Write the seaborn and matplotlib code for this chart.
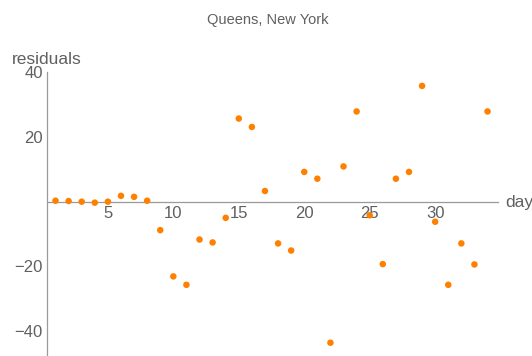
import matplotlib
matplotlib.use("Agg")
import matplotlib.pyplot as plt
import seaborn as sns
import pandas as pd
from matplotlib.ticker import MultipleLocator, FixedLocator

days = list(range(1, 35))
residuals = [0.3, 0.2, 0.0, -0.3, 0.0, 1.8, 1.5, 0.3, -8.8, -23.1,
             -25.7, -11.7, -12.6, -5.0, 25.7, 23.1, 3.3, -12.9, -15.1, 9.2,
             7.1, -43.6, 10.9, 27.9, -4.2, -19.3, 7.1, 9.2, 35.8, -6.2,
             -25.7, -12.9, -19.4, 27.9]
x_major = [5, 10, 15, 20, 25, 30]
y_major = [-40, -20, 20, 40]

df = pd.DataFrame({"day": days, "residuals": residuals})

sns.set_style("white")
plt.rcParams['font.family'] = ['Liberation Sans', 'DejaVu Sans']

W, H = 532, 356
fig = plt.figure(figsize=(W / 100, H / 100), dpi=100)
ax = fig.add_axes([47 / W, 1 / H, 451 / W, 284 / H])

sns.scatterplot(data=df, x="day", y="residuals", ax=ax, color="#ff8000",
                s=22, edgecolor="none", linewidth=0, zorder=3, clip_on=False)

ax.set_xlim(0.35, 34.8)
ax.set_ylim(-47.4, 40.4)

axis_col = "#9a9a9a"
text_col = "#606060"
for s in ["top", "right"]:
    ax.spines[s].set_visible(False)
ax.spines["bottom"].set_position(("data", 0))
ax.spines["bottom"].set_color(axis_col)
ax.spines["left"].set_color(axis_col)
ax.spines["bottom"].set_linewidth(0.9)
ax.spines["left"].set_linewidth(0.9)
ax.spines["left"].set_bounds(-47.4, 40)

ax.xaxis.set_major_locator(FixedLocator(x_major))
ax.xaxis.set_minor_locator(MultipleLocator(1))
ax.yaxis.set_major_locator(FixedLocator(y_major))
ax.yaxis.set_minor_locator(MultipleLocator(5))

ax.tick_params(axis="both", which="major", direction="in", length=4, width=0.8,
               color=axis_col, labelcolor=text_col, labelsize=12, pad=3)
ax.tick_params(axis="both", which="minor", direction="in", length=2.6, width=0.7,
               color=axis_col)
ax.set_xticklabels([str(v) for v in x_major])
ax.set_yticklabels([str(v).replace("-", "\u2212") for v in y_major])

ax.set_xlabel("")
ax.set_ylabel("")

fig.text(12 / W, 1 - 64 / H, "residuals", fontsize=12.5, color=text_col,
         ha="left", va="baseline")
fig.text(505 / W, 1 - 202 / H, "day", fontsize=12.5, color=text_col,
         ha="left", va="center")
fig.text(268 / W, 1 - 20 / H, "Queens, New York", fontsize=10.5,
         color=text_col, ha="center", va="center")

fig.savefig("out.png", dpi=100)
